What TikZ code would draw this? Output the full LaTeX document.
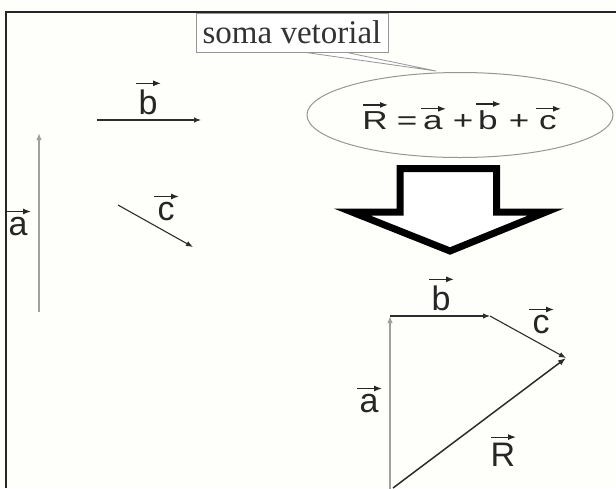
\documentclass[tikz,border=0pt]{standalone}
\usepackage{fontspec}
\setmainfont{Liberation Serif}
\newfontfamily\labfont{Liberation Sans}
\usetikzlibrary{arrows.meta,shapes.geometric,calc}
\definecolor{bgcol}{RGB}{254,254,250}
\definecolor{darkvec}{RGB}{45,45,45}
\definecolor{lightvec}{RGB}{160,160,160}
\definecolor{thinline}{RGB}{150,150,150}
\tikzset{
  vecline/.style={line width=1.1pt, draw=darkvec, -{Latex[length=7pt,width=5.5pt]}},
  greyvec/.style={line width=1.5pt, draw=lightvec, -{Latex[length=7pt,width=5.5pt]}},
  resvec/.style={line width=1.5pt, draw=darkvec, -{Latex[length=8pt,width=6pt]}},
  lbl/.style={inner sep=0pt, text=black!85, font=\labfont\fontsize{34}{40}\selectfont},
  eqsym/.style={inner sep=0pt, anchor=base, text=black!85, xscale=1.35, font=\labfont\fontsize{26}{30}\selectfont},
  marktip/.style={line width=1.2pt, draw=black!85, -{Latex[length=8pt,width=6pt]}},
  bigarrow/.style={line width=7pt, draw=black, fill=white, line join=miter, miter limit=10},
  calloutbox/.style={draw=thinline, line width=1pt, fill=white, inner sep=0pt,
     minimum width=192pt, minimum height=39pt, text=black!80,
     font=\fontsize{33}{38}\selectfont},
  callwedge/.style={draw=thinline, line width=0.8pt, fill=white},
  bubble/.style={ellipse, draw=thinline, line width=1pt, minimum width=306pt, minimum height=85pt, inner sep=0pt},
  framel/.style={line width=2pt, draw=black!85}
}
\newcommand{\vecmark}[1]{\draw[marktip] ([xshift=-12pt,yshift=6pt]#1.north) -- ([xshift=13pt,yshift=6pt]#1.north);}
\begin{document}
\begin{tikzpicture}[x=1pt,y=-1pt]
\fill[bgcol] (0,0) rectangle (616,488);
\useasboundingbox (0,0) rectangle (616,488);
% frame
\draw[framel] (6,488) -- (6,12) -- (616,12);
% callout
\coordinate (tip) at (436,71);
\node[calloutbox] (callout) at (292,32.5) {soma vetorial};
\draw[callwedge] ([xshift=14pt]callout.south) -- (tip) -- ([xshift=55pt]callout.south);
\draw[thinline, line width=1pt] ([xshift=10pt]callout.south) -- ([xshift=60pt]callout.south);
\node[bubble] (ell) at (460,115) {};
% equation
\node[eqsym] (eR) at (375,129) {R};
\node[eqsym] (eq) at (407,129) {=};
\node[eqsym] (ea) at (433,129) {a};
\node[eqsym] (p1) at (463,129) {+};
\node[eqsym] (eb) at (488,129) {b};
\node[eqsym] (p2) at (519,129) {+};
\node[eqsym] (ec) at (548,129) {c};
\vecmark{eR}\vecmark{ea}\vecmark{eb}\vecmark{ec}
% left vectors
\coordinate (lb0) at (97,120);  \coordinate (lb1) at (201,120);
\coordinate (la0) at (39,312);  \coordinate (la1) at (39,133);
\coordinate (lc0) at (118,205); \coordinate (lc1) at (193,247);
\draw[vecline] (lb0) -- (lb1);
\draw[greyvec] (la0) -- (la1);
\draw[vecline] (lc0) -- (lc1);
\node[lbl] (Lb) at (148,102) {b};
\node[lbl] (La) at (18,227) {a};
\node[lbl] (Lc) at (166,212) {c};
\vecmark{Lb}\vecmark{La}\vecmark{Lc}
% big arrow
\draw[bigarrow] (400,168.5) -- (496.5,168.5) -- (496.5,212) -- (546,212) -- (450,251) -- (352,212) -- (400,212) -- cycle;
% bottom vector sum
\coordinate (O) at (390,490);
\coordinate (A) at (390,316);
\coordinate (B) at (490,316);
\coordinate (C) at (566,358);
\draw[greyvec] (O) -- (A);
\draw[vecline] (A) -- (B);
\draw[vecline] (B) -- (C);
\draw[resvec] (393,488) -- (C);
\node[lbl] (Bb) at (441,298) {b};
\node[lbl] (Bc) at (541,325) {c};
\node[lbl] (Ba) at (369,404) {a};
\node[lbl] (BR) at (503,455) {R};
\vecmark{Bb}\vecmark{Bc}\vecmark{Ba}\vecmark{BR}
\end{tikzpicture}
\end{document}
